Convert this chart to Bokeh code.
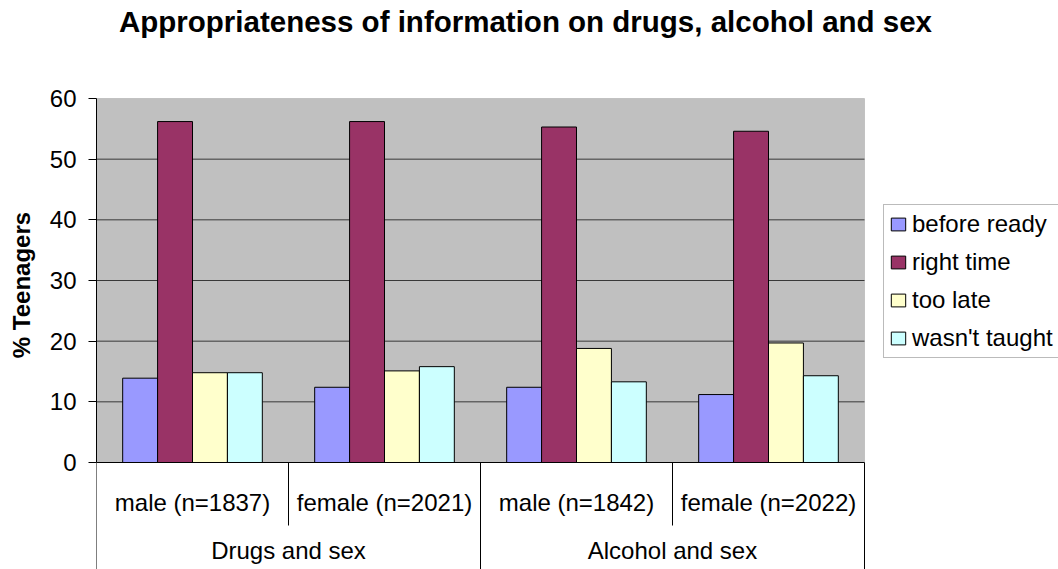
from bokeh.plotting import figure
from bokeh.models import Range1d, FixedTicker, BoxAnnotation, Legend, LegendItem
from bokeh.core.properties import value
from bokeh.embed import file_html
from bokeh.resources import INLINE

# ---------------- data ----------------
groups = ["Drugs and sex", "Alcohol and sex"]
subgroups = ["male (n=1837)", "female (n=2021)", "male (n=1842)", "female (n=2022)"]
series = ["before ready", "right time", "too late", "wasn't taught"]
before_ready = [13.9, 12.4, 12.4, 11.2]
right_time = [56.2, 56.2, 55.3, 54.6]
too_late = [14.8, 15.1, 18.8, 19.7]
wasnt_taught = [14.8, 15.8, 13.3, 14.3]
colors = ["#9999FF", "#993366", "#FFFFCC", "#CCFFFF"]
y_ticks = [0, 10, 20, 30, 40, 50, 60]
title_text = "Appropriateness of information on drugs, alcohol and sex"
y_label = "% Teenagers"

# ---------------- layout constants ----------------
FONT = "Liberation Sans"
W, H = 1058, 569
BL = 96                 # left border (axis area)
PLOT_W = 768            # width of the grey plotting area in px
PX_PER_UNIT = 364 / 60  # vertical scale
ZERO_PX = 462           # pixel row of the zero line
n = len(subgroups)
per_group = n // len(groups)
ymax = y_ticks[-1]
y_top = ymax + (ZERO_PX - ymax * PX_PER_UNIT) / PX_PER_UNIT
y_bot = -(H - ZERO_PX) / PX_PER_UNIT
x_end = n * (W - BL) / PLOT_W

def ypx(px):
    """data y of a pixel row (for label placement)"""
    return (ZERO_PX - px) / PX_PER_UNIT

p = figure(width=W, height=H, output_backend="svg", toolbar_location=None,
           tools="", title=None,
           x_range=Range1d(0, x_end), y_range=Range1d(y_bot, y_top),
           x_axis_location=None, y_axis_location="left",
           min_border_left=BL, min_border_right=0,
           min_border_top=0, min_border_bottom=0)
p.outline_line_color = None
p.background_fill_color = "white"
p.border_fill_color = "white"

# grey plotting area
bg = BoxAnnotation(left=0, right=n, bottom=0, top=ymax, fill_color="#C0C0C0",
                   fill_alpha=1, line_color="#808080", line_width=1, level="image")
p.add_layout(bg)

for g in p.grid:
    g.visible = False

# horizontal grid lines (inside the grey area only), from the tick values
grid_vals = y_ticks[1:-1]
p.segment(x0=[0] * len(grid_vals), y0=grid_vals, x1=[n] * len(grid_vals), y1=grid_vals,
          line_color="#383838", line_width=1)

# y axis
ax = p.yaxis[0]
ax.ticker = FixedTicker(ticks=y_ticks)
ax.bounds = (0, ymax)
ax.axis_line_color = "black"
ax.major_tick_line_color = "black"
ax.minor_tick_line_color = None
ax.major_tick_out = 8
ax.major_tick_in = 0
ax.major_label_standoff = 12
ax.major_label_text_font = FONT
ax.major_label_text_font_size = "24px"
ax.major_label_text_color = "black"
ax.axis_label = y_label
ax.axis_label_text_font = FONT
ax.axis_label_text_font_size = "24px"
ax.axis_label_text_font_style = "bold"
ax.axis_label_text_color = "black"
ax.axis_label_standoff = 12

# bars
w = 1 / 5.5
data_series = [before_ready, right_time, too_late, wasnt_taught]
renderers = []
for k, (vals, c) in enumerate(zip(data_series, colors)):
    xs = [i + 0.5 + (k - (len(series) - 1) / 2) * w for i in range(n)]
    r = p.vbar(x=xs, top=vals, bottom=0, width=w, fill_color=c,
               line_color="black", line_width=1)
    renderers.append(r)

# category axis line and separators
p.segment(x0=[0], y0=[0], x1=[n], y1=[0], line_color="black", line_width=1)
sep_x = list(range(n + 1))
sep_end = [y_bot if i % per_group == 0 else ypx(525) for i in sep_x]
p.segment(x0=sep_x, y0=[0] * len(sep_x), x1=sep_x, y1=sep_end,
          line_color="black", line_width=1)

# category labels
p.text(x=[i + 0.5 for i in range(n)], y=[ypx(502)] * n, text=subgroups,
       text_align="center", text_baseline="alphabetic",
       text_font=value(FONT), text_font_size=value("24px"), text_color="black")
p.text(x=[g * per_group + per_group / 2 for g in range(len(groups))],
       y=[ypx(550)] * len(groups), text=groups,
       text_align="center", text_baseline="alphabetic",
       text_font=value(FONT), text_font_size=value("24px"), text_color="black")

# title
p.text(x=[(525 - BL) / (PLOT_W / n)], y=[ypx(21)], text=[title_text],
       text_align="center", text_baseline="alphabetic",
       text_font=value(FONT), text_font_size=value("29.5px"),
       text_font_style="bold", text_color="black")

# legend
legend = Legend(items=[LegendItem(label=s, renderers=[r]) for s, r in zip(series, renderers)],
                location=(787, 211), orientation="vertical",
                label_text_font=FONT, label_text_font_size="24px",
                label_text_color="black",
                glyph_width=18, glyph_height=16, label_standoff=5,
                padding=5, spacing=10, margin=0,
                border_line_color="#777777", border_line_width=1,
                background_fill_color="white", background_fill_alpha=1)
p.add_layout(legend)

open("out.html", "w").write(file_html(p, INLINE))
